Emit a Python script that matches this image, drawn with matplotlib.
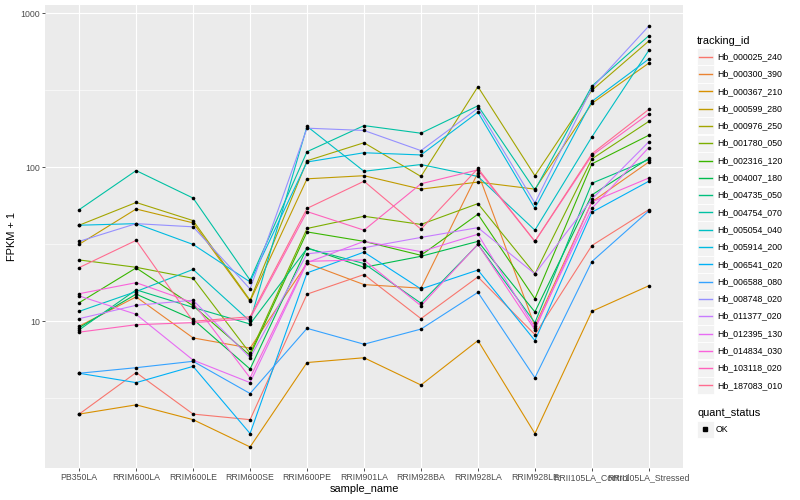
import numpy as np
import matplotlib
matplotlib.use("Agg")
from matplotlib import pyplot as plt
from matplotlib.patches import Rectangle
from matplotlib.lines import Line2D
from matplotlib.ticker import FixedLocator, NullFormatter

plt.rcParams['font.family'] = ['Liberation Sans', 'DejaVu Sans']

samples = ["PB350LA", "RRIM600LA", "RRIM600LE", "RRIM600SE", "RRIM600PE", "RRIM901LA",
           "RRIM928BA", "RRIM928LA", "RRIM928LE", "RRII105LA_Control", "RRII105LA_Stressed"]

tracking_ids = ["Hb_000025_240", "Hb_000300_390", "Hb_000367_210", "Hb_000599_280",
                "Hb_000976_250", "Hb_001780_050", "Hb_002316_120", "Hb_004007_180",
                "Hb_004735_050", "Hb_004754_070", "Hb_005054_040", "Hb_005914_200",
                "Hb_006541_020", "Hb_006588_080", "Hb_008748_020", "Hb_011377_020",
                "Hb_012395_130", "Hb_014834_030", "Hb_103118_020", "Hb_187083_010"]

# FPKM + 1 per sample, one list per gene
hb_000025_240 = [2.5, 4.65, 2.5, 2.3, 15.0, 20.1, 10.4, 19.4, 8.2, 31, 53]
hb_000300_390 = [9.3, 14.4, 7.8, 6.7, 23.8, 17.3, 16.4, 92, 9.3, 59.5, 108]
hb_000367_210 = [2.5, 2.87, 2.3, 1.53, 5.4, 5.8, 3.86, 7.5, 1.87, 11.6, 17]
hb_000599_280 = [31.6, 53.5, 43.5, 13.5, 84, 88, 72, 80, 72, 259, 473]
hb_000976_250 = [42, 59, 45, 13.7, 110, 144, 87, 333, 88, 315, 658]
hb_001780_050 = [25, 22.4, 19, 6.2, 40, 48, 42.5, 58, 20.3, 113, 198]
hb_002316_120 = [13.2, 22.2, 12.6, 6.0, 38, 33, 26.8, 49.5, 14, 105, 161]
hb_004007_180 = [9.1, 15.0, 10.3, 4.9, 30, 22.4, 26.4, 33, 11.5, 66, 114]
hb_004735_050 = [8.8, 16, 12.3, 9.6, 29.7, 23.7, 13.1, 31.5, 9.8, 78.6, 112]
hb_004754_070 = [53, 95, 63, 18.5, 126, 186, 166, 250, 71, 335, 712]
hb_005054_040 = [11.6, 15.6, 21.7, 10.0, 184, 94, 104, 87, 39, 157, 572]
hb_005914_200 = [42, 43, 31.5, 18, 108, 124, 120, 227, 54, 267, 503]
hb_006541_020 = [4.6, 4.0, 5.1, 1.87, 20.6, 28.1, 16.2, 21.5, 7.5, 51, 81]
hb_006588_080 = [4.6, 5.0, 5.5, 3.4, 9.0, 7.1, 8.9, 15.4, 4.3, 24.4, 52]
hb_008748_020 = [33, 43, 41, 16.2, 179, 173, 128, 241, 58.5, 326, 823]
hb_011377_020 = [10.4, 12.7, 13.7, 5.8, 27.4, 30, 35, 40.5, 20.3, 62, 146]
hb_012395_130 = [14.6, 11.1, 5.6, 4.0, 24.0, 33, 28.3, 36.7, 9.1, 54, 134]
hb_014834_030 = [15.1, 17.8, 13.2, 4.3, 24.5, 25, 12.6, 31.6, 8.8, 59.5, 85]
hb_103118_020 = [8.5, 9.5, 9.8, 10.4, 51.5, 39, 78, 96, 33, 119, 222]
hb_187083_010 = [22.3, 33.5, 10.0, 10.7, 54, 81, 39.6, 98, 33, 122, 237]

series = [hb_000025_240, hb_000300_390, hb_000367_210, hb_000599_280, hb_000976_250,
          hb_001780_050, hb_002316_120, hb_004007_180, hb_004735_050, hb_004754_070,
          hb_005054_040, hb_005914_200, hb_006541_020, hb_006588_080, hb_008748_020,
          hb_011377_020, hb_012395_130, hb_014834_030, hb_103118_020, hb_187083_010]

# ggplot hue palette, 20 levels
colors = ["#F8766D", "#EA8331", "#D89000", "#C09B00", "#A3A500", "#7CAE00", "#39B600",
          "#00BB4E", "#00BF7D", "#00C1A3", "#00BFC4", "#00BAE0", "#00B0F6", "#35A2FF",
          "#9590FF", "#C77CFF", "#E76BF3", "#FA62DB", "#FF62BC", "#FF6C90"]

W, H = 800, 500
fig = plt.figure(figsize=(W / 100, H / 100), dpi=100)
ax = fig.add_axes([45 / W, 32 / H, 638 / W, 463 / H])
ax.set_facecolor('#EBEBEB')
for s in ax.spines.values():
    s.set_visible(False)

x = np.arange(len(samples))
for vals, c in zip(series, colors):
    ax.plot(x, vals, color=c, lw=0.8, zorder=3)
for vals in series:
    ax.plot(x, vals, 'o', color='black', ms=2.6, mew=0, zorder=4)

ax.set_yscale('log')
allv = np.log10(np.concatenate([np.array(v) for v in series]))
lo, hi = allv.min(), allv.max()
pad = 0.05 * (hi - lo)
ax.set_ylim(10 ** (lo - pad), 10 ** (hi + pad))
ax.set_xlim(-0.6, len(samples) - 0.4)

ax.yaxis.set_major_locator(FixedLocator([10, 100, 1000]))
ax.yaxis.set_minor_locator(FixedLocator([10 ** 0.5, 10 ** 1.5, 10 ** 2.5]))
ax.yaxis.set_minor_formatter(NullFormatter())
ax.set_yticklabels(['10', '100', '1000'])
ax.set_xticks(x)
ax.set_xticklabels(samples)

ax.grid(True, which='major', color='white', lw=0.8, zorder=0)
ax.grid(True, which='minor', axis='y', color='white', lw=0.4, zorder=0)
ax.set_axisbelow(True)
ax.tick_params(which='major', length=2.2, width=0.6, color='#333333',
               labelsize=6.3, labelcolor='#4D4D4D', pad=1.6)
ax.tick_params(which='minor', length=0)

fig.text(12 / W, 1 - 236.5 / H, 'FPKM + 1', rotation=90, ha='center', va='center',
         fontsize=7.9, color='black')
fig.text(364 / W, 1 - 489 / H, 'sample_name', ha='center', va='center',
         fontsize=7.9, color='black')

# legend: tracking_id
fig.text(697 / W, 1 - 40.5 / H, 'tracking_id', ha='left', va='center', fontsize=7.9)
for i, (name, c) in enumerate(zip(tracking_ids, colors)):
    yc = 56.7 + i * 17.3
    fig.add_artist(Rectangle((697 / W, 1 - (yc + 8.5) / H), 16.5 / W, 17 / H,
                             transform=fig.transFigure, facecolor='#F2F2F2',
                             edgecolor='white', lw=0.6, zorder=1))
    fig.add_artist(Line2D([698.5 / W, 711.5 / W], [1 - yc / H, 1 - yc / H],
                          transform=fig.transFigure, color=c, lw=1.0, zorder=5))
    fig.text(717 / W, 1 - yc / H, name, ha='left', va='center', fontsize=6.3)

# legend: quant_status
fig.text(697 / W, 1 - 412.5 / H, 'quant_status', ha='left', va='center', fontsize=7.9)
yc = 429
fig.add_artist(Rectangle((697 / W, 1 - (yc + 8.5) / H), 16.5 / W, 17 / H,
                         transform=fig.transFigure, facecolor='#F2F2F2',
                         edgecolor='white', lw=0.6, zorder=1))
fig.add_artist(Line2D([705 / W], [1 - yc / H], transform=fig.transFigure,
                      marker='s', ms=2.4, color='black', lw=0, zorder=5))
fig.text(716 / W, 1 - yc / H, 'OK', ha='left', va='center', fontsize=6.3)

fig.savefig('out.png', dpi=100)
